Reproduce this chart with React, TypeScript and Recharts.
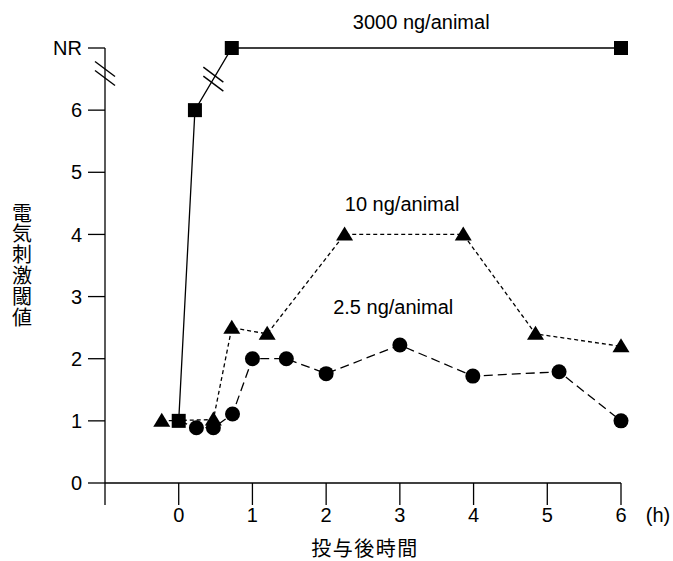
import { LineChart, Line, XAxis, YAxis, ReferenceDot } from "recharts";

// 3000 ng/animal (squares)
const sqX = [0, 0.22, 0.72, 6];
const sqY = [1, 6, 7, 7];
// 10 ng/animal (triangles)
const triX = [-0.23, 0.47, 0.72, 1.2, 2.25, 3.86, 4.84, 6];
const triY = [1, 1.02, 2.5, 2.4, 4, 4, 2.4, 2.2];
// 2.5 ng/animal (circles), first point sits under the square at t=0
const cirX = [0, 0.24, 0.47, 0.73, 1.0, 1.46, 2.0, 3.0, 3.99, 5.16, 6];
const cirY = [1, 0.89, 0.89, 1.11, 2.0, 2.0, 1.76, 2.22, 1.72, 1.79, 1.0];

const xTicks = [-1, 0, 1, 2, 3, 4, 5, 6];
const yTicks = [0, 1, 2, 3, 4, 5, 6, 7];
const yTickLabels = ["0", "1", "2", "3", "4", "5", "6", "NR"];

const seriesLabels = [
  { text: "3000 ng/animal", x: 3.29, y: 7.42 },
  { text: "10 ng/animal", x: 3.03, y: 4.49 },
  { text: "2.5 ng/animal", x: 2.91, y: 2.83 },
];

const yTitle = "電気刺激閾値";
const xTitle = "投与後時間";
const xUnit = "(h)";

const toRows = (xs: number[], ys: number[]) => xs.map((x, i) => ({ x, y: ys[i] }));
const sqData = toRows(sqX, sqY);
const triData = toRows(triX, triY);
const cirData = toRows(cirX, cirY);

const FONT = "'Liberation Sans', Arial, sans-serif";
const JP_FONT = "'Noto Sans CJK JP', sans-serif";

const SquareDot = (p: any) => (
  <rect key={p.index} x={p.cx - 7} y={p.cy - 7} width={14} height={14} fill="#000" />
);

const TriangleDot = (p: any) => (
  <polygon
    key={p.index}
    points={`${p.cx},${p.cy - 8} ${p.cx + 8.5},${p.cy + 6} ${p.cx - 8.5},${p.cy + 6}`}
    fill="#000"
  />
);

const CircleDot = (p: any) =>
  p.index === 0 ? <g key={p.index} /> : <circle key={p.index} cx={p.cx} cy={p.cy} r={7.5} fill="#000" />;

// two short parallel slashes = axis / line break
const BreakMark = (p: any) => (
  <g stroke="#000" strokeWidth={1.4}>
    <line x1={p.cx - 10} y1={p.cy - 12} x2={p.cx + 10} y2={p.cy + 3} />
    <line x1={p.cx - 10} y1={p.cy - 3} x2={p.cx + 10} y2={p.cy + 12} />
  </g>
);

export default function App() {
  return (
    <div style={{ position: "absolute", left: 0, top: 0, background: "#fff" }}>
      <LineChart width={673} height={561} margin={{ top: 48, right: 52, bottom: 0, left: 0 }}>
        <XAxis
          type="number"
          dataKey="x"
          domain={[-1, 6]}
          ticks={xTicks}
          tickFormatter={(v: number) => (v === -1 ? "" : String(v))}
          tickSize={22}
          tickMargin={3}
          height={78}
          tick={{ fill: "#000", fontSize: 20, fontFamily: FONT }}
          axisLine={{ stroke: "#000", strokeWidth: 1.3 }}
          tickLine={{ stroke: "#000", strokeWidth: 1.3 }}
          label={{
            content: (props: any) => {
              const vb = props.viewBox;
              return (
                <g>
                  <text x={vb.x + vb.width + 37} y={vb.y + 39} textAnchor="middle" fontSize={20} fontFamily={FONT} fill="#000">
                    {xUnit}
                  </text>
                  <text
                    x={vb.x + vb.width / 2 + 2}
                    y={vb.y + 64}
                    textAnchor="middle"
                    dominantBaseline="central"
                    fontSize={20}
                    letterSpacing={1.5}
                    fontFamily={JP_FONT}
                    fill="#000"
                  >
                    {xTitle}
                  </text>
                </g>
              );
            },
          }}
        />
        <YAxis
          type="number"
          domain={[0, 7]}
          ticks={yTicks}
          width={105}
          tickFormatter={(v: number) => yTickLabels[v]}
          tickSize={17}
          tickMargin={6}
          tick={{ fill: "#000", fontSize: 20, fontFamily: FONT }}
          axisLine={{ stroke: "#000", strokeWidth: 1.3 }}
          tickLine={{ stroke: "#000", strokeWidth: 1.3 }}
          label={{
            content: () => (
              <text
                x={22}
                y={203}
                writingMode="vertical-rl"
                letterSpacing={0.8}
                fontSize={20}
                fontFamily={JP_FONT}
                fill="#000"
              >
                {yTitle}
              </text>
            ),
          }}
        />

        <Line
          data={sqData}
          dataKey="y"
          stroke="#000"
          strokeWidth={1.3}
          dot={SquareDot}
          activeDot={false}
          isAnimationActive={false}
        />
        <Line
          data={triData}
          dataKey="y"
          stroke="#000"
          strokeWidth={1.3}
          strokeDasharray="4 3"
          dot={TriangleDot}
          activeDot={false}
          isAnimationActive={false}
        />
        <Line
          data={cirData}
          dataKey="y"
          stroke="#000"
          strokeWidth={1.3}
          strokeDasharray="9 5"
          dot={CircleDot}
          activeDot={false}
          isAnimationActive={false}
        />

        <ReferenceDot x={-1} y={6.59} ifOverflow="visible" shape={BreakMark} />
        <ReferenceDot x={0.47} y={6.5} ifOverflow="visible" shape={BreakMark} />

        {seriesLabels.map((l) => (
          <ReferenceDot
            key={l.text}
            x={l.x}
            y={l.y}
            ifOverflow="visible"
            shape={(p: any) => (
              <text x={p.cx} y={p.cy} textAnchor="middle" dominantBaseline="central" fontSize={20} fontFamily={FONT} fill="#000">
                {l.text}
              </text>
            )}
          />
        ))}
      </LineChart>
    </div>
  );
}
